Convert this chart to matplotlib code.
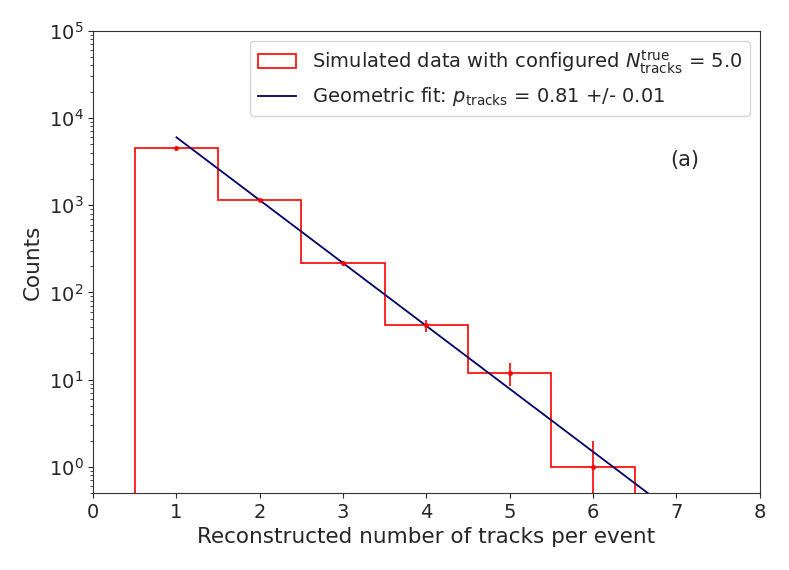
import numpy as np
import matplotlib
matplotlib.use("Agg")
import matplotlib.pyplot as plt

# Histogram contents (one bin per track count)
n_tracks = [1, 2, 3, 4, 5, 6]
counts = [4500, 1140, 215, 42, 12, 1]
bin_edges = [0.5, 1.5, 2.5, 3.5, 4.5, 5.5, 6.5]

# Geometric fit parameters
p_fit = 0.81
p_err = 0.01
fit_norm = 6000.0  # fitted value at one track
fit_x = [1.0, 7.0]

text_col = "#262626"
plt.rcParams["font.family"] = ["DejaVu Sans"]
plt.rcParams["text.color"] = text_col
plt.rcParams["axes.labelcolor"] = text_col
plt.rcParams["xtick.color"] = text_col
plt.rcParams["ytick.color"] = text_col
plt.rcParams["axes.edgecolor"] = "#333333"

fig = plt.figure(figsize=(7.89, 5.70), dpi=100)
ax = fig.add_axes([0.118, 0.135, 0.845, 0.811])

# histogram drawn as a step outline
ax.hist(n_tracks, bins=bin_edges, weights=counts, histtype="step", color="red",
        linewidth=1.2, label=r"Simulated data with configured $N_{\mathrm{tracks}}^{\mathrm{true}}$ = 5.0")
# points with Poisson errors
ax.errorbar(n_tracks, counts, yerr=np.sqrt(counts), fmt="o", color="red",
            markersize=2.5, elinewidth=1.2, capsize=0)

# geometric fit line
xs = np.linspace(fit_x[0], fit_x[1], 200)
ys = fit_norm * (1 - p_fit) ** (xs - 1)
ax.plot(xs, ys, color="#000066", linewidth=1.3,
        label=r"Geometric fit: $p_{\mathrm{tracks}}$ = %.2f +/- %.2f" % (p_fit, p_err))

ax.set_yscale("log")
ax.set_xlim(0, 8)
ax.set_ylim(0.5, 1e5)
ax.set_xticks(range(0, 9))
ax.tick_params(labelsize=14, direction="out")
ax.set_xlabel("Reconstructed number of tracks per event", fontsize=15.5)
ax.set_ylabel("Counts", fontsize=15.5)

ax.text(0.888, 0.72, "(a)", transform=ax.transAxes, fontsize=15, ha="center", va="center")

ax.legend(loc="upper right", fontsize=14, frameon=True, framealpha=0.8, handlelength=2)

fig.savefig("out.png", dpi=100)
